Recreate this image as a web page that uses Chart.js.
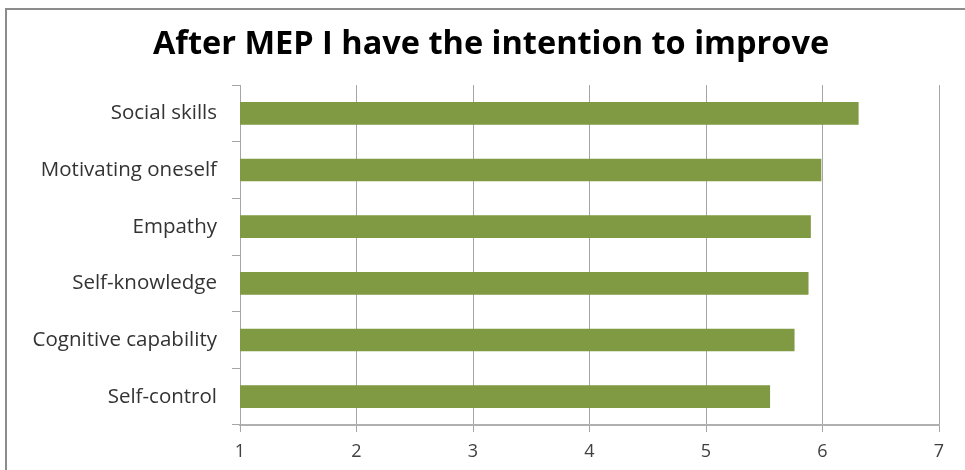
<!DOCTYPE html>
<html>
<head>
<meta charset="utf-8">
<script src="https://cdn.jsdelivr.net/npm/chart.js@4.4.0/dist/chart.umd.min.js"></script>
<style>
  html, body { margin: 0; padding: 0; background: #ffffff; }
  #wrap { position: relative; width: 965px; height: 470px; overflow: hidden; }
  #frame { position: absolute; left: 5px; top: 8px; width: 1000px; height: 500px; border: 2px solid #8c8c8c; box-sizing: border-box; }
  canvas { position: absolute; left: 0; top: 0; }
</style>
</head>
<body>
<div id="wrap">
  <div id="frame"></div>
  <canvas id="c" width="965" height="470"></canvas>
</div>
<script>
const titleText = "After MEP I have the intention to improve";
const categories = ["Social skills", "Motivating oneself", "Empathy", "Self-knowledge", "Cognitive capability", "Self-control"];
const values = [6.31, 5.99, 5.90, 5.88, 5.76, 5.55];
const xTicks = [1, 2, 3, 4, 5, 6, 7];

const FONT = "'Open Sans', 'DejaVu Sans', sans-serif";

// shift the title box so that it is centred like the reference (centre ~491px)
const titleShift = {
  id: 'titleShift',
  afterLayout(chart) {
    const t = chart.titleBlock;
    if (t) { t.left = 43; t.right = chart.chartArea.right; t.width = t.right - t.left; }
  }
};

new Chart(document.getElementById('c'), {
  type: 'bar',
  data: {
    labels: categories,
    datasets: [{
      data: values,
      backgroundColor: '#7f9a42',
      borderWidth: 0,
      barPercentage: 0.4,
      categoryPercentage: 1.0
    }]
  },
  plugins: [titleShift],
  options: {
    indexAxis: 'y',
    responsive: false,
    animation: false,
    layout: { padding: { left: 0, right: 26, top: 0, bottom: 0 } },
    plugins: {
      legend: { display: false },
      tooltip: { enabled: false },
      title: {
        display: true,
        text: titleText,
        color: '#000000',
        font: { family: FONT, size: 32.5, weight: 'bold' },
        padding: { top: 25, bottom: 21 }
      }
    },
    scales: {
      x: {
        min: xTicks[0],
        max: xTicks[xTicks.length - 1],
        afterBuildTicks: (s) => { s.ticks = xTicks.map(v => ({ value: v })); },
        ticks: { color: '#404040', font: { family: FONT, size: 18 }, padding: 9 },
        grid: { color: '#a6a6a6', lineWidth: 1, tickLength: 7, tickColor: '#a6a6a6' },
        border: { color: '#b0b0b0', width: 2 },
        afterFit: (s) => { s.height = 45; }
      },
      y: {
        ticks: { color: '#333333', font: { family: FONT, size: 20.5 }, padding: 15 },
        grid: { offset: true, drawOnChartArea: false, drawTicks: true, tickLength: 8, color: '#a6a6a6' },
        border: { color: '#a6a6a6', width: 1 },
        afterFit: (s) => { s.width = 240; }
      }
    }
  }
});
</script>
</body>
</html>
